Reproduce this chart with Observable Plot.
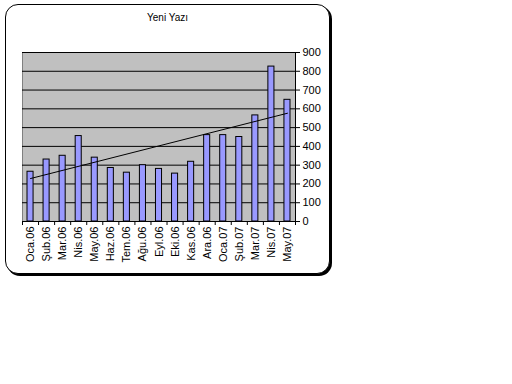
<!DOCTYPE html>
<html>
<head>
<meta charset="utf-8">
<script src="https://cdn.jsdelivr.net/npm/d3@7"></script>
<script src="https://cdn.jsdelivr.net/npm/@observablehq/plot@0.6"></script>
<style>
  html, body { margin: 0; padding: 0; background: #fff; }
  #wrap { position: relative; width: 512px; height: 384px; overflow: hidden; }
  #box { position: absolute; left: 5px; top: 4px; width: 323px; height: 268px;
         border: 1px solid #000; border-radius: 13px; box-shadow: 2px 2px 0 #000; background: #fff; }
  #title { position: absolute; left: 5px; width: 325px; top: 12px; text-align: center;
           font: 10px "Liberation Sans", Arial, sans-serif; color: #000; }
  #chart { position: absolute; left: 0; top: 0; }
</style>
</head>
<body>
<div id="wrap">
  <div id="box"></div>
  <div id="title">Yeni Yazı</div>
  <div id="chart"></div>
</div>
<script>
const categories = ["Oca.06","Şub.06","Mar.06","Nis.06","May.06","Haz.06","Tem.06","Ağu.06","Eyl.06","Eki.06","Kas.06","Ara.06","Oca.07","Şub.07","Mar.07","Nis.07","May.07"];
const values = [265, 330, 350, 455, 340, 285, 260, 300, 280, 255, 318, 460, 460, 450, 565, 825, 648];
const yTicks = [0, 100, 200, 300, 400, 500, 600, 700, 800, 900];

const data = categories.map((c, i) => ({i, c, v: values[i]}));
const n = categories.length;

const plot = Plot.plot({
  width: 512,
  height: 384,
  marginLeft: 22,
  marginRight: 217,
  marginTop: 52,
  marginBottom: 163,
  style: {background: "transparent", fontFamily: "'Liberation Sans', Arial, sans-serif", fontSize: "11px", color: "#000"},
  x: {domain: [0, n]},
  y: {domain: [0, 900]},
  marks: [
    Plot.frame({fill: "#C0C0C0", stroke: "#808080"}),
    Plot.gridY(yTicks, {stroke: "#000", strokeOpacity: 1}),
    Plot.rectY(data, {x1: "i", x2: d => d.i + 1, y: "v", fill: "#9999FF", stroke: "#000", insetLeft: 5, insetRight: 5}),
    Plot.linearRegressionY(data, {x: d => d.i + 0.5, y: "v", ci: 0, stroke: "#000", strokeWidth: 1}),
    Plot.frame({anchor: "right", stroke: "#000"}),
    Plot.frame({anchor: "bottom", stroke: "#000"}),
    Plot.axisY({anchor: "right", ticks: yTicks, tickSize: 4, tickPadding: 3, fontSize: 11, label: null}),
    Plot.axisX({ticks: d3.range(0, n + 1), tickSize: 4, tickFormat: () => "", label: null}),
    Plot.axisX({ticks: categories.map((_, i) => i + 0.5), tickSize: 0, tickPadding: 5,
                tickFormat: t => categories[Math.floor(t)], tickRotate: -90, fontSize: 11, label: null})
  ]
});
document.getElementById("chart").appendChild(plot);
</script>
</body>
</html>
